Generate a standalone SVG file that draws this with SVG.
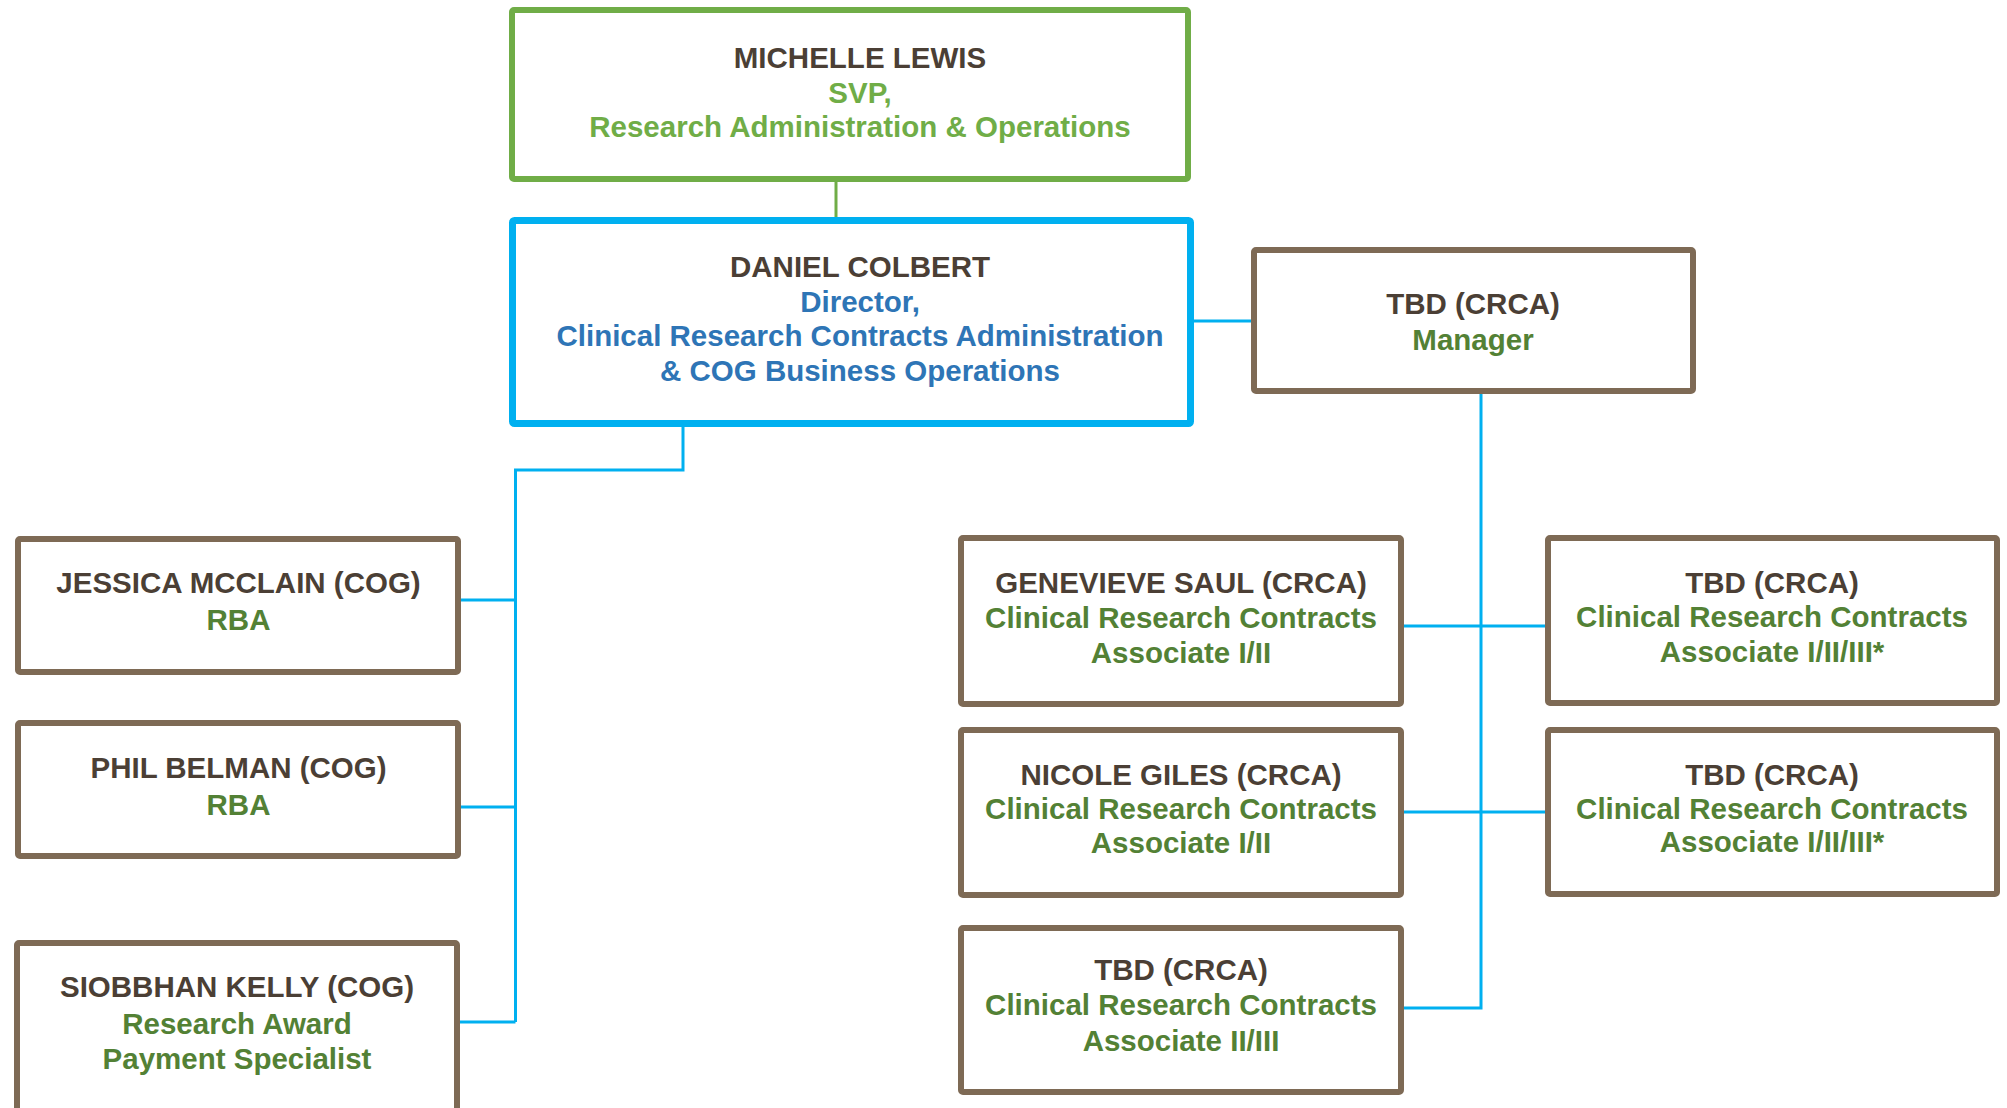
<svg xmlns="http://www.w3.org/2000/svg" width="2007" height="1108" viewBox="0 0 2007 1108">
<style>
text{font-family:"Liberation Sans",Arial,sans-serif;font-weight:bold;font-size:29.5px;text-anchor:middle}
.n{fill:#4B3F35}
.g{fill:#538135}
.lg{fill:#70AD47}
.b{fill:#2E75B6}
.box{fill:#fff;stroke:#7E6A55;stroke-width:6}
.c{fill:none;stroke:#00B0F0;stroke-width:3}
</style>
<rect width="2007" height="1108" fill="#fff"/>
<g id="connectors">
<path d="M836 182V217" fill="none" stroke="#70AD47" stroke-width="3"/>
<path class="c" d="M1194 321H1251"/>
<path class="c" d="M683 427V470H515.5V1022"/>
<path class="c" d="M461 600H515.5M461 807H515.5M460 1022H515.5"/>
<path class="c" d="M1481 394V1008H1404"/>
<path class="c" d="M1404 626H1545M1404 812H1545"/>
</g>
<g id="michelle">
<rect x="512" y="10" width="676" height="169" rx="2" fill="#fff" stroke="#70AD47" stroke-width="6"/>
<text x="860" y="68" class="n">MICHELLE LEWIS</text>
<text x="860" y="102.5" class="lg">SVP,</text>
<text x="860" y="137" class="lg">Research Administration &amp; Operations</text>
</g>
<g id="daniel">
<rect x="512.5" y="220.5" width="678" height="203" rx="2" fill="#fff" stroke="#00B0F0" stroke-width="7"/>
<text x="860" y="277" class="n">DANIEL COLBERT</text>
<text x="860" y="312" class="b">Director,</text>
<text x="860" y="346" class="b">Clinical Research Contracts Administration</text>
<text x="860" y="381" class="b">&amp; COG Business Operations</text>
</g>
<g id="manager">
<rect class="box" x="1254" y="250" width="439" height="141" rx="2"/>
<text x="1473" y="314" class="n">TBD (CRCA)</text>
<text x="1473" y="350" class="g">Manager</text>
</g>
<g id="jessica">
<rect class="box" x="18" y="539" width="440" height="133" rx="2"/>
<text x="238.5" y="593" class="n">JESSICA MCCLAIN (COG)</text>
<text x="238.5" y="630" class="g">RBA</text>
</g>
<g id="phil">
<rect class="box" x="18" y="723" width="440" height="133" rx="2"/>
<text x="238.5" y="777.5" class="n">PHIL BELMAN (COG)</text>
<text x="238.5" y="815" class="g">RBA</text>
</g>
<g id="siobbhan">
<rect class="box" x="17" y="943" width="440" height="190" rx="2"/>
<text x="237" y="997" class="n">SIOBBHAN KELLY (COG)</text>
<text x="237" y="1034" class="g">Research Award</text>
<text x="237" y="1068.5" class="g">Payment Specialist</text>
</g>
<g id="genevieve">
<rect class="box" x="961" y="538" width="440" height="166" rx="2"/>
<text x="1181" y="593" class="n">GENEVIEVE SAUL (CRCA)</text>
<text x="1181" y="628" class="g">Clinical Research Contracts</text>
<text x="1181" y="663" class="g">Associate I/II</text>
</g>
<g id="tbd1">
<rect class="box" x="1548" y="538" width="449" height="165" rx="2"/>
<text x="1772" y="593" class="n">TBD (CRCA)</text>
<text x="1772" y="627" class="g">Clinical Research Contracts</text>
<text x="1772" y="662" class="g">Associate I/II/III*</text>
</g>
<g id="nicole">
<rect class="box" x="961" y="730" width="440" height="165" rx="2"/>
<text x="1181" y="785" class="n">NICOLE GILES (CRCA)</text>
<text x="1181" y="819" class="g">Clinical Research Contracts</text>
<text x="1181" y="853" class="g">Associate I/II</text>
</g>
<g id="tbd2">
<rect class="box" x="1548" y="730" width="449" height="164" rx="2"/>
<text x="1772" y="785" class="n">TBD (CRCA)</text>
<text x="1772" y="819" class="g">Clinical Research Contracts</text>
<text x="1772" y="852" class="g">Associate I/II/III*</text>
</g>
<g id="tbd3">
<rect class="box" x="961" y="928" width="440" height="164" rx="2"/>
<text x="1181" y="980" class="n">TBD (CRCA)</text>
<text x="1181" y="1015" class="g">Clinical Research Contracts</text>
<text x="1181" y="1050.5" class="g">Associate II/III</text>
</g>
</svg>
